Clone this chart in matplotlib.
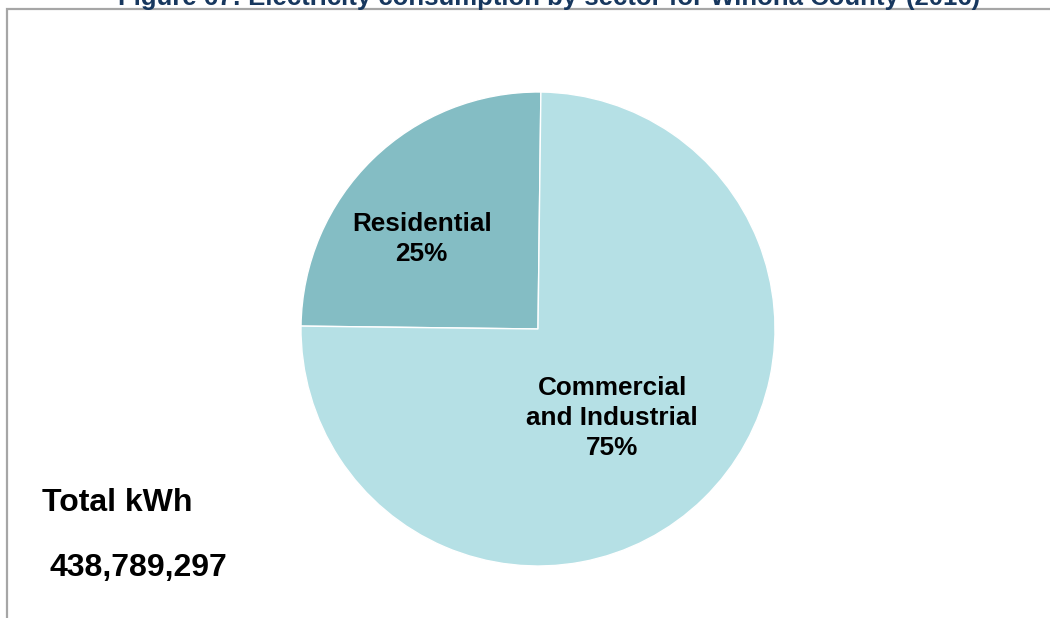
import matplotlib
matplotlib.use("Agg")
import matplotlib.pyplot as plt
from matplotlib.patches import Rectangle
import numpy as np

plt.rcParams['font.family'] = ['Liberation Sans', 'DejaVu Sans']

# Data
sectors = ["Residential", "Commercial\nand Industrial"]
shares = [25, 75]
colors = ["#84BDC4", "#B5E0E5"]
total_kwh = 438789297
title = "Figure 67: Electricity consumption by sector for Winona County (2016)"

W, H = 1050, 618
fig = plt.figure(figsize=(W / 100, H / 100), dpi=100)
fig.patch.set_facecolor("white")

# Frame around the chart area
fig.add_artist(Rectangle((7 / W, -0.1), 1.2, (H - 9) / H + 0.1,
                         transform=fig.transFigure, fill=False,
                         edgecolor="#A6A6A6", linewidth=1.6))

# Pie axes: centre (538, 329) px, radius 237 px
cx, cy, r = 538, 329, 237
ax = fig.add_axes([(cx - r) / W, (H - cy - r) / H, 2 * r / W, 2 * r / H])

wedges, _ = ax.pie(shares, colors=colors, startangle=89.3, counterclock=True,
                   radius=1, center=(0, 0),
                   wedgeprops=dict(edgecolor="white", linewidth=1.0))
ax.set_xlim(-1, 1)
ax.set_ylim(-1, 1)
ax.set_aspect("equal")
ax.axis("off")

label_radius = [0.62, 0.49]
label_shift = [8, -4.5]
for w, name, val, rr, sh in zip(wedges, sectors, shares, label_radius, label_shift):
    mid = np.deg2rad((w.theta1 + w.theta2) / 2 + sh)
    ax.text(rr * np.cos(mid), rr * np.sin(mid), f"{name}\n{val}%",
            ha="center", va="center", fontsize=18.8, fontweight="bold",
            color="black", linespacing=1.32)

fig.text(549 / W, (H - 5) / H, title, ha="center", va="baseline",
         fontsize=18.5, fontweight="bold", color="#17375E")

fig.text(42 / W, (H - 503) / H, "Total kWh", ha="left", va="center",
         fontsize=23, fontweight="bold", color="black")
fig.text(50 / W, (H - 568) / H, f"{total_kwh:,}", ha="left", va="center",
         fontsize=23, fontweight="bold", color="black")

fig.savefig("out.png", dpi=100, facecolor="white")
